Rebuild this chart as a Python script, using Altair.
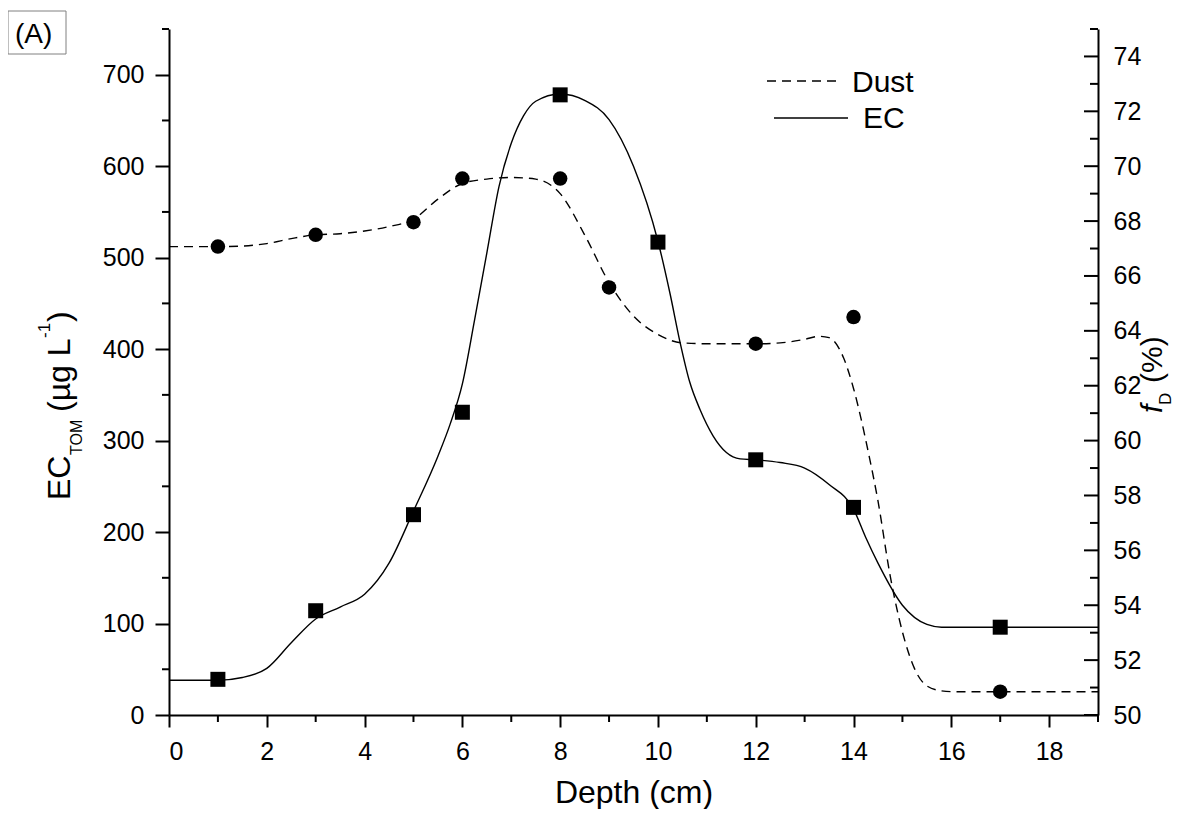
import altair as alt
import pandas as pd

# ---------------- data ----------------
ec_depth = [1, 3, 5, 6, 8, 10, 12, 14, 17]
ec_value = [39, 114, 219, 331, 678, 517, 279, 227, 96]

dust_depth = [1, 3, 5, 6, 8, 9, 12, 14, 17]
dust_value = [67.07, 67.5, 67.96, 69.55, 69.55, 65.58, 63.53, 64.5, 50.85]

# smoothed curves as drawn in the figure
ec_curve_depth = [0, 1, 1.5, 2, 2.5, 3, 3.5, 4, 4.5, 5, 5.5, 5.75, 6, 6.25, 6.5, 6.75,
                  7, 7.25, 7.5, 8, 8.5, 9, 9.5, 10, 10.25, 10.45, 10.65, 10.86, 11.13,
                  11.4, 11.68, 12, 12.5, 13, 13.5, 14, 14.25, 14.5, 15, 15.5, 15.8, 16, 19]
ec_curve_value = [38, 38, 41, 51, 79, 105, 118, 132, 166, 223, 283, 318, 362, 432, 505, 578,
                  625, 655, 671, 679, 672, 651, 600, 518, 460, 408, 364, 334, 305,
                  287, 280, 279, 276, 270, 252, 225, 194, 166, 120, 99, 96, 96, 96]

dust_curve_depth = [0, 1, 1.5, 2, 2.5, 3, 3.5, 4, 4.5, 5, 5.5, 6, 6.5, 7, 7.5, 8, 8.5,
                    9, 9.5, 10, 10.5, 11, 12, 12.5, 13, 13.3, 13.5, 13.8, 14, 14.3, 14.5,
                    14.75, 15, 15.25, 15.5, 15.8, 16, 19]
dust_curve_value = [67.07, 67.07, 67.09, 67.18, 67.36, 67.5, 67.54, 67.64, 67.8, 68.07,
                    68.8, 69.37, 69.53, 69.59, 69.53, 69.0, 67.5, 65.76, 64.54, 63.87,
                    63.56, 63.53, 63.53, 63.56, 63.69, 63.8, 63.75, 63.0, 61.9, 59.6,
                    57.8, 55.07, 53.03, 51.68, 51.06, 50.88, 50.85, 50.85]

x_major = [0, 2, 4, 6, 8, 10, 12, 14, 16, 18]
x_minor = [1, 3, 5, 7, 9, 11, 13, 15, 17, 19]
ec_major = [0, 100, 200, 300, 400, 500, 600, 700]
ec_minor = [50, 150, 250, 350, 450, 550, 650, 750]
f_major = [50, 52, 54, 56, 58, 60, 62, 64, 66, 68, 70, 72, 74]
f_minor = [51, 53, 55, 57, 59, 61, 63, 65, 67, 69, 71, 73, 75]

# ---------------- layout ----------------
W, H = 929, 686
FONT = "Liberation Sans"

xs = alt.Scale(domain=[0, 19], nice=False, zero=False)
ys_ec = alt.Scale(domain=[0, 750], nice=False, zero=False)
ys_f = alt.Scale(domain=[50, 75], nice=False, zero=False)

x_axis = alt.Axis(values=x_major, title="Depth (cm)", tickSize=12, tickWidth=2,
                  domainWidth=2, labelPadding=12, labelFontSize=25,
                  titleFontSize=32, titleFontWeight="normal", titleBaseline="alphabetic",
                  titleY=87, titleFont=FONT)
ec_axis = alt.Axis(orient="left", values=ec_major, title=None, tickSize=14, tickWidth=2,
                   domainWidth=2, labelPadding=11, labelFontSize=25)
f_axis = alt.Axis(orient="right", values=f_major, title=None, ticks=False, tickSize=0,
                  domainWidth=2, labelPadding=15, labelFontSize=25)

X = alt.X("depth:Q", scale=xs, axis=x_axis)

ec_curve_df = pd.DataFrame({"depth": ec_curve_depth, "ec": ec_curve_value})
ec_pts_df = pd.DataFrame({"depth": ec_depth, "ec": ec_value})
dust_curve_df = pd.DataFrame({"depth": dust_curve_depth, "f": dust_curve_value})
dust_pts_df = pd.DataFrame({"depth": dust_depth, "f": dust_value})

Y_ec = alt.Y("ec:Q", scale=ys_ec, axis=ec_axis)
Y_f = alt.Y("f:Q", scale=ys_f, axis=f_axis)

ec_line = alt.Chart(ec_curve_df).mark_line(
    color="black", strokeWidth=1.4, interpolate="monotone").encode(x=X, y=Y_ec)
ec_sq = alt.Chart(ec_pts_df).mark_point(
    shape="square", filled=True, size=225, color="black", opacity=1).encode(x=X, y=Y_ec)

ec_minor_ticks = alt.Chart(pd.DataFrame({"ec": ec_minor})).mark_rule(
    color="black", strokeWidth=2).encode(y=Y_ec, x=alt.value(0), x2=alt.value(-7))
x_minor_ticks = alt.Chart(pd.DataFrame({"depth": x_minor})).mark_rule(
    color="black", strokeWidth=2).encode(x=X, y=alt.value(H), y2=alt.value(H + 7))

dust_line = alt.Chart(dust_curve_df).mark_line(
    color="black", strokeWidth=1.4, strokeDash=[9, 6], interpolate="monotone").encode(x=X, y=Y_f)
dust_pts = alt.Chart(dust_pts_df).mark_circle(
    size=210, color="black", opacity=1).encode(x=X, y=Y_f)
f_major_ticks = alt.Chart(pd.DataFrame({"f": f_major})).mark_rule(
    color="black", strokeWidth=2).encode(y=Y_f, x=alt.value(W), x2=alt.value(W - 14))
f_minor_ticks = alt.Chart(pd.DataFrame({"f": f_minor})).mark_rule(
    color="black", strokeWidth=2).encode(y=Y_f, x=alt.value(W), x2=alt.value(W - 8))

one = pd.DataFrame({"k": [0]})


def label(txt, px, py, size, angle=0, style="normal", align="left"):
    return alt.Chart(one).mark_text(
        text=txt, font=FONT, fontSize=size, angle=angle, fontStyle=style,
        align=align, baseline="alphabetic", color="black"
    ).encode(x=alt.value(px), y=alt.value(py))


def seg(x1, x2, yv, dash=None):
    kw = {"color": "black", "strokeWidth": 1.4}
    if dash:
        kw["strokeDash"] = dash
    return alt.Chart(one).mark_rule(**kw).encode(
        x=alt.value(x1), x2=alt.value(x2), y=alt.value(yv))


annotations = [
    # legend
    seg(598, 673, 52, [9, 6]),
    label("Dust", 683, 62.5, 30),
    seg(605, 679, 89),
    label("EC", 694, 98.5, 30),
    # left axis title (rotated, composed pieces)
    label("EC", -99, 471, 32, angle=270),
    label("TOM", -87, 426, 16, angle=270),
    label("(µg L", -99, 383, 32, angle=270),
    label("-1", -119, 309, 17, angle=270),
    label(")", -99, 293, 32, angle=270),
    # right axis title
    label("f", 993, 384, 30, angle=270, style="italic"),
    label("D", 1002, 376, 17, angle=270),
    label("(%)", 993, 354, 30, angle=270),
    # panel tag
    alt.Chart(one).mark_rect(fill="white", stroke="#808080", strokeWidth=1).encode(
        x=alt.value(-161), x2=alt.value(-103), y=alt.value(-18), y2=alt.value(25)),
    label("(A)", -154, 14, 28),
]

left = alt.layer(ec_minor_ticks, x_minor_ticks, ec_line, ec_sq, *annotations)
right = alt.layer(f_major_ticks, f_minor_ticks, dust_line, dust_pts)

chart = alt.layer(left, right).resolve_scale(y="independent").properties(
    width=W, height=H,
    padding={"left": 161, "top": 21, "right": 78, "bottom": 94},
    autosize=alt.AutoSizeParams(type="none"),
).configure_view(stroke=None).configure_axis(
    grid=False, domainColor="black", tickColor="black", labelColor="black",
    titleColor="black", labelFont=FONT, titleFont=FONT,
)

chart.save("out.html", embed_options={"renderer": "svg", "actions": False})
